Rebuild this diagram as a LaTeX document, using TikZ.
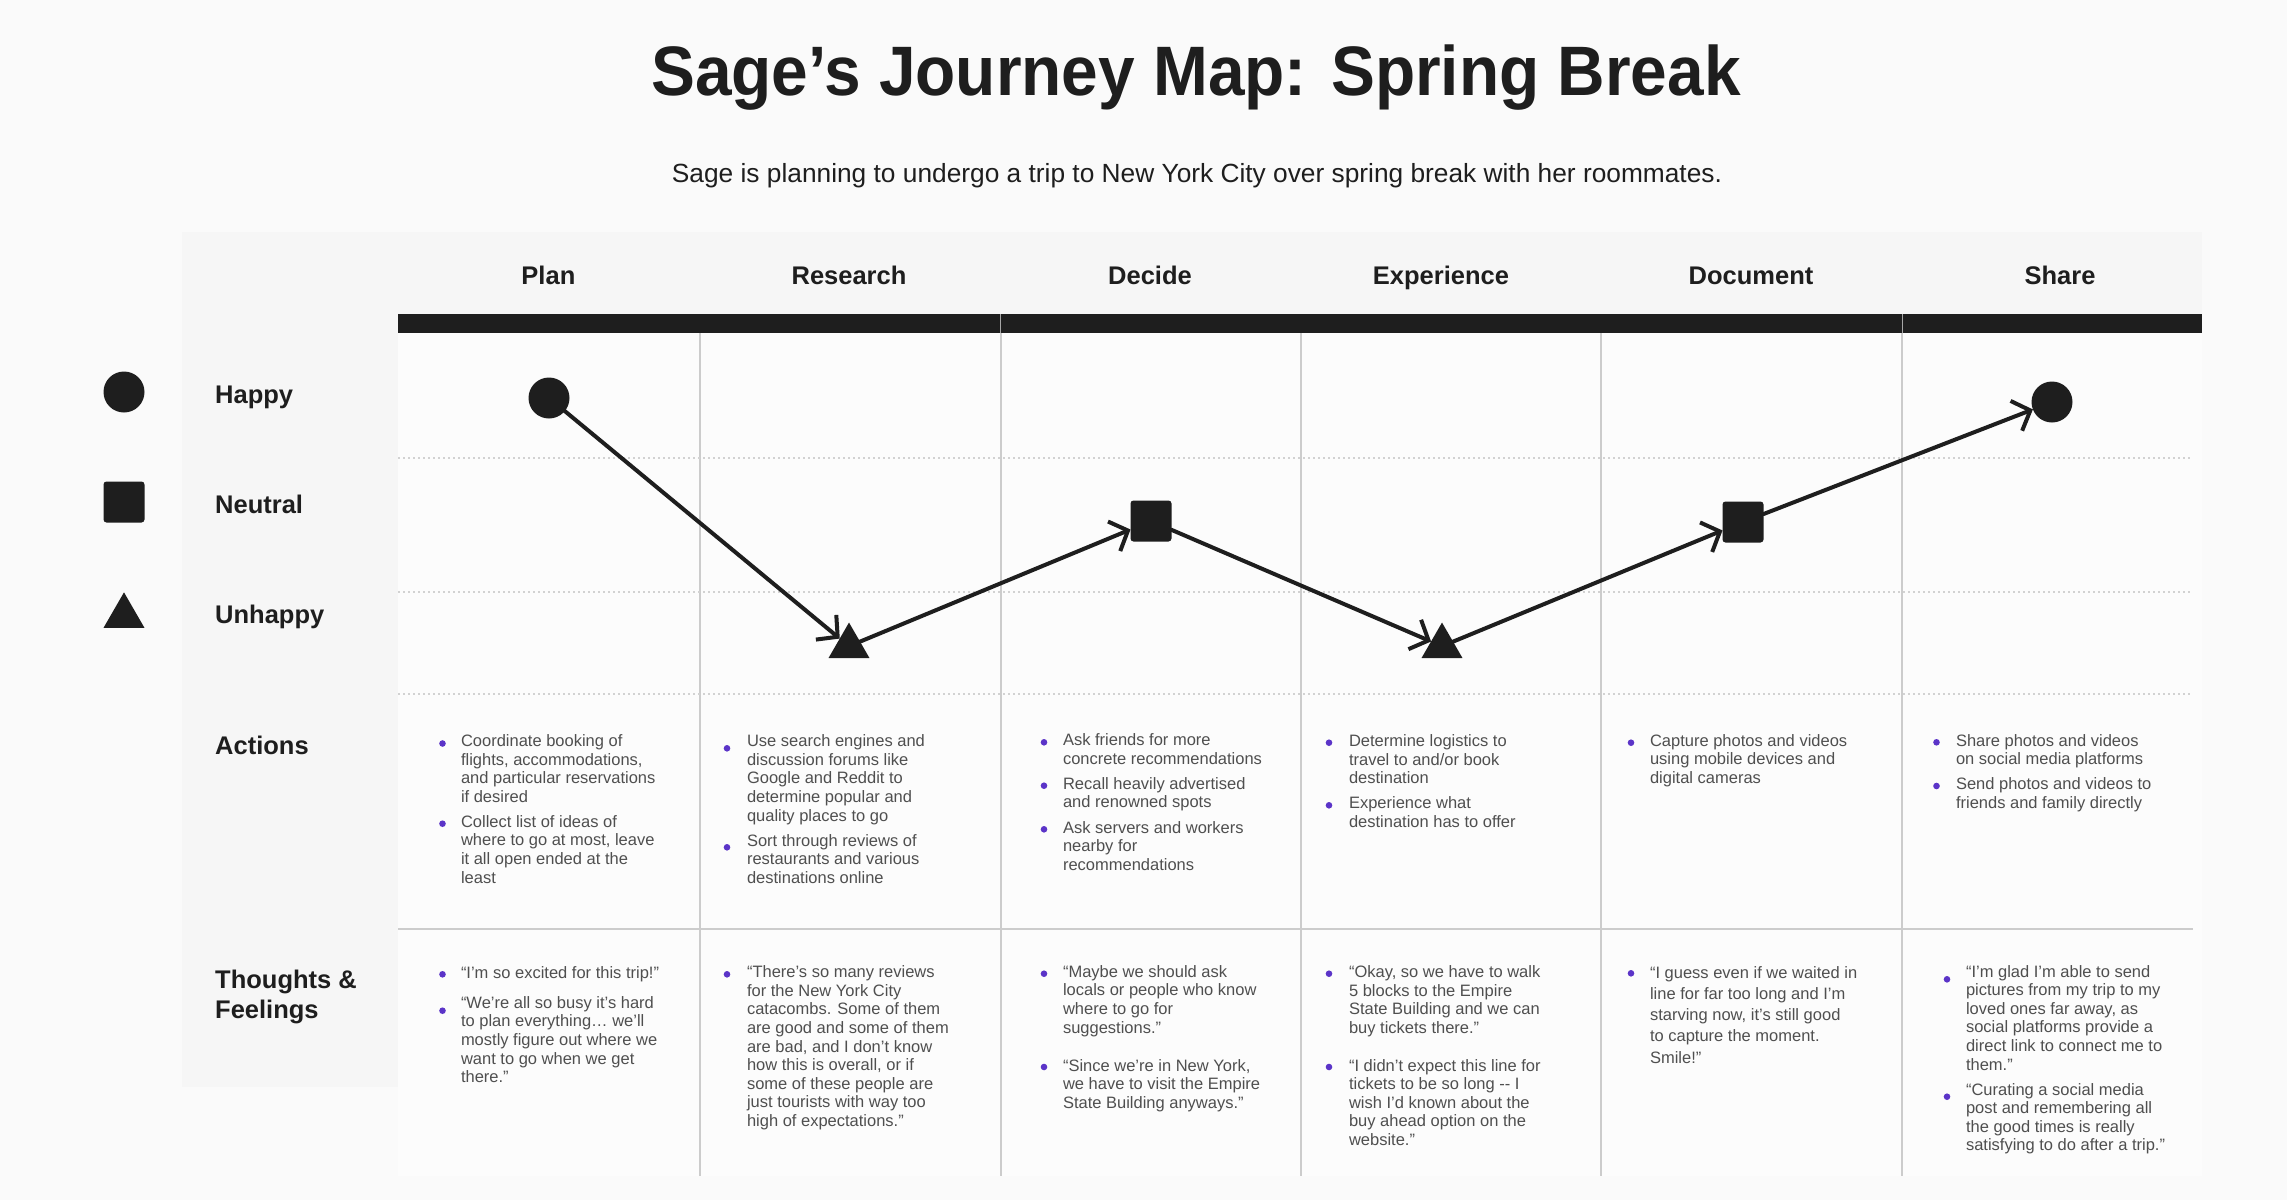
\documentclass[tikz,border=0pt]{standalone}
\usepackage{fontspec}
\setmainfont{Liberation Sans}
\newfontfamily\titlefont[FakeStretch=0.94]{Liberation Sans}
\usetikzlibrary{arrows.meta,shapes.geometric}
\definecolor{ink}{HTML}{1E1E1E}
\definecolor{bodytxt}{HTML}{4F4F4F}
\definecolor{bul}{HTML}{5B34C8}
\definecolor{pagebg}{HTML}{FAFAFA}
\definecolor{panelbg}{HTML}{F6F6F6}
\definecolor{cellbg}{HTML}{FCFCFC}
\definecolor{gridline}{HTML}{CCCCCC}
\definecolor{dotline}{HTML}{D2D2D2}
\newcommand\JItem[6]{%
  \fill[bul] (#2,#3) circle (3.3pt);
  \node[itemtxt] (#1) at (#4,#5-13.02) {\strut #6};
}
\begin{document}
\begin{tikzpicture}[x=1pt,y=-1pt,
  itemtxt/.style={anchor=north west, inner sep=0pt, outer sep=0pt, align=left, text=bodytxt, font=\fontsize{16.5}{18.6}\selectfont},
  rowlbl/.style={anchor=base west, inner sep=0pt, text=ink, font=\fontsize{25.5}{30}\selectfont\bfseries},
  colhdr/.style={anchor=base, inner sep=0pt, text=ink, font=\fontsize{25.5}{30}\selectfont\bfseries},
  happy/.style={circle, fill=ink, minimum size=41pt, inner sep=0pt, outer sep=0pt},
  neutral/.style={rectangle, fill=ink, minimum size=41pt, inner sep=0pt, outer sep=0pt, rounded corners=3pt},
  unhappy/.style={regular polygon, regular polygon sides=3, fill=ink, minimum size=47.3pt, inner sep=0pt, outer sep=0pt},
  moodarrow/.style={draw=ink, line width=4pt, line cap=round, line join=round, -{Straight Barb[length=15pt,width=32pt]}},
  dotrule/.style={draw=dotline, line width=2pt, dash pattern=on 2pt off 3pt},
  gridrule/.style={draw=gridline, line width=2pt}
]
% page
\fill[pagebg] (0,0) rectangle (2287,1200);
\useasboundingbox (0,0) rectangle (2287,1200);
% panels
\fill[panelbg] (182,232) rectangle (398,1087);
\fill[panelbg] (398,232) rectangle (2202,314);
\fill[cellbg] (398,333) rectangle (2202,1176);
% title
\node[anchor=base, inner sep=0pt, text=ink, font=\titlefont\fontsize{70}{80}\selectfont\bfseries] (title) at (1196,95) {Sage’s Journey Map: Spring Break};
\node[anchor=base, inner sep=0pt, text=ink, font=\fontsize{26.3}{30}\selectfont] (subtitle) at (1197,182) {Sage is planning to undergo a trip to New York City over spring break with her roommates.};
% header bar
\fill[ink] (398,314) rectangle (2202,333);
\draw[gray!70, line width=1pt] (1000.6,314) -- (1000.6,333);
\draw[gray!70, line width=1pt] (1902,314) -- (1902,333);
% column headers
\node[colhdr] (hPlan) at (548.4,284) {Plan};
\node[colhdr] (hResearch) at (849,284) {Research};
\node[colhdr] (hDecide) at (1150,284) {Decide};
\node[colhdr] (hExperience) at (1441,284) {Experience};
\node[colhdr] (hDocument) at (1751,284) {Document};
\node[colhdr] (hShare) at (2060,284) {Share};
% grid
\foreach \gx in {700,1000.6,1301,1601,1902} {\draw[gridrule] (\gx,333) -- (\gx,1176);}
\foreach \gy in {458,592,694} {\draw[dotrule] (398,\gy) -- (2192,\gy);}
\draw[gridrule] (398,929) -- (2193,929);
% legend
\node[happy] (lgHappy) at (124,392) {};
\node[neutral] (lgNeutral) at (124,502) {};
\node[unhappy] (lgUnhappy) at (124,616) {};
\node[rowlbl] (lHappy) at (215,403) {Happy};
\node[rowlbl] (lNeutral) at (215,513) {Neutral};
\node[rowlbl] (lUnhappy) at (215,623) {Unhappy};
\node[rowlbl] (lActions) at (215,754) {Actions};
\node[rowlbl, anchor=north west, align=left] (lThoughts) at (215,967) {\strut Thoughts \&\\Feelings};
% journey markers
\node[happy] (mPlan) at (549,398) {};
\node[unhappy] (mResearch) at (849,646.2) {};
\node[neutral] (mDecide) at (1151,521) {};
\node[unhappy] (mExperience) at (1442,646.2) {};
\node[neutral] (mDocument) at (1743,522) {};
\node[happy] (mShare) at (2052,402) {};
\draw[moodarrow] (mPlan) -- (mResearch);
\draw[moodarrow] (mResearch) -- (mDecide);
\draw[moodarrow] (mDecide) -- (mExperience);
\draw[moodarrow] (mExperience) -- (mDocument);
\draw[moodarrow] (mDocument) -- (mShare);
% actions
\JItem{a1}{442.5}{743.5}{461}{746.7}{Coordinate booking of\\flights, accommodations,\\and particular reservations\\if desired}
\JItem{a2}{442.5}{823.7}{461}{827.3}{Collect list of ideas of\\where to go at most, leave\\it all open ended at the\\least}
\JItem{b1}{727}{748.3}{747}{746.7}{Use search engines and\\discussion forums like\\Google and Reddit to\\determine popular and\\quality places to go}
\JItem{b2}{727}{847.3}{747}{846}{Sort through reviews of\\restaurants and various\\destinations online}
\JItem{c1}{1044}{742.3}{1063}{745.7}{Ask friends for more\\concrete recommendations}
\JItem{c2}{1044}{785.7}{1063}{789.3}{Recall heavily advertised\\and renowned spots}
\JItem{c3}{1044}{829.3}{1063}{833}{Ask servers and workers\\nearby for\\recommendations}
\JItem{d1}{1329}{742.7}{1349}{746.7}{Determine logistics to\\travel to and/or book\\destination}
\JItem{d2}{1329}{805.3}{1349}{808.7}{Experience what\\destination has to offer}
\JItem{e1}{1631}{742.7}{1650}{746}{Capture photos and videos\\using mobile devices and\\digital cameras}
\JItem{f1}{1936.5}{742.3}{1956}{746}{Share photos and videos\\on social media platforms}
\JItem{f2}{1936.5}{786}{1956}{789.7}{Send photos and videos to\\friends and family directly}
% thoughts
\JItem{g1}{442.5}{974.3}{461}{978.3}{“I’m so excited for this trip!”}
\JItem{g2}{442.5}{1010.7}{461}{1008.3}{“We’re all so busy it’s hard\\to plan everything… we’ll\\mostly figure out where we\\want to go when we get\\there.”}
\JItem{h1}{727}{974.3}{747}{977.7}{“There’s so many reviews\\for the New York City\\catacombs. Some of them\\are good and some of them\\are bad, and I don’t know\\how this is overall, or if\\some of these people are\\just tourists with way too\\high of expectations.”}
\JItem{i1}{1044}{973.7}{1063}{977.3}{“Maybe we should ask\\locals or people who know\\where to go for\\suggestions.”}
\JItem{i2}{1044}{1067}{1063}{1071}{“Since we’re in New York,\\we have to visit the Empire\\State Building anyways.”}
\JItem{j1}{1329}{973.7}{1349}{977.7}{“Okay, so we have to walk\\5 blocks to the Empire\\State Building and we can\\buy tickets there.”}
\JItem{j2}{1329}{1067}{1349}{1071}{“I didn’t expect this line for\\tickets to be so long -{}- I\\wish I’d known about the\\buy ahead option on the\\website.”}
\fill[bul] (1631,973.3) circle (3.3pt);
\node[itemtxt, font=\fontsize{16.5}{21.2}\selectfont] (k1) at (1650,978.3-14.84) {\strut “I guess even if we waited in\\line for far too long and I’m\\starving now, it’s still good\\to capture the moment.\\Smile!”};
\JItem{l1}{1947}{979.3}{1966}{977}{“I’m glad I’m able to send\\pictures from my trip to my\\loved ones far away, as\\social platforms provide a\\direct link to connect me to\\them.”}
\JItem{l2}{1947}{1096.7}{1966}{1095}{“Curating a social media\\post and remembering all\\the good times is really\\satisfying to do after a trip.”}
\end{tikzpicture}
\end{document}
